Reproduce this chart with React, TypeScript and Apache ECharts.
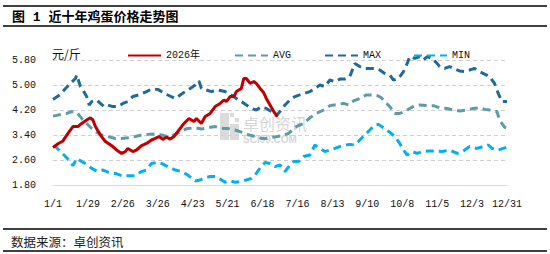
import React, { useEffect, useRef } from "react";
import * as echarts from "echarts";

// X-axis tick labels (every 28 days from 1/1)
const tickLabels = ["1/1", "1/29", "2/26", "3/26", "4/23", "5/21", "6/18", "7/16", "8/13", "9/10", "10/8", "11/5", "12/3", "12/31"];

const seriesNames = ["2026年", "AVG", "MAX", "MIN"];

// 2026 (day-of-year index, price)
const days2026 = [0, 4, 8, 12, 16, 20, 23, 27, 30, 32, 34, 38, 42, 47, 51, 55, 58, 60, 64, 67, 71, 75, 79, 82, 85, 88, 91, 94, 97, 101, 105, 109, 113, 115, 119, 122, 126, 130, 134, 137, 139, 142, 145, 147, 151, 153, 155, 158, 161, 163, 166, 169, 171, 174, 177, 180];
const price2026 = [3.0, 3.12, 3.21, 3.45, 3.67, 3.67, 3.77, 3.88, 3.95, 3.88, 3.67, 3.4, 3.19, 3.06, 2.92, 2.81, 2.87, 2.97, 2.87, 2.92, 3.06, 3.13, 3.24, 3.29, 3.35, 3.26, 3.33, 3.27, 3.35, 3.56, 3.77, 3.93, 3.83, 3.93, 3.77, 3.99, 4.09, 4.31, 4.41, 4.52, 4.47, 4.63, 4.63, 4.79, 4.89, 5.21, 5.21, 5.05, 5.11, 5.05, 4.89, 4.75, 4.57, 4.36, 4.15, 3.99];

// AVG
const daysAvg = [0, 2, 7, 11, 15, 19, 23, 27, 31, 35, 39, 44, 50, 55, 60, 66, 71, 76, 82, 87, 92, 98, 103, 108, 114, 119, 124, 130, 135, 140, 146, 151, 156, 162, 167, 171, 175, 180, 185, 189, 195, 201, 206, 211, 217, 222, 228, 233, 237, 241, 246, 251, 256, 260, 263, 266, 270, 274, 278, 282, 286, 290, 294, 300, 305, 310, 316, 321, 326, 332, 337, 342, 346, 350, 356, 358, 362, 364];
const priceAvg = [4.01, 4.02, 4.06, 4.09, 4.15, 4.13, 3.93, 3.77, 3.61, 3.49, 3.4, 3.35, 3.29, 3.29, 3.31, 3.35, 3.4, 3.42, 3.43, 3.4, 3.35, 3.42, 3.53, 3.61, 3.63, 3.59, 3.63, 3.67, 3.61, 3.61, 3.56, 3.49, 3.42, 3.35, 3.29, 3.29, 3.32, 3.35, 3.4, 3.45, 3.67, 3.77, 3.95, 4.09, 4.2, 4.34, 4.38, 4.41, 4.36, 4.49, 4.57, 4.68, 4.68, 4.66, 4.6, 4.47, 4.31, 4.09, 4.09, 4.15, 4.25, 4.34, 4.36, 4.34, 4.34, 4.27, 4.25, 4.2, 4.17, 4.2, 4.25, 4.27, 4.22, 4.2, 4.15, 3.88, 3.65, 3.62];

// MAX
const daysMax = [0, 2, 6, 10, 14, 18, 19, 22, 24, 27, 29, 31, 35, 38, 41, 44, 48, 52, 56, 60, 64, 70, 75, 79, 84, 87, 92, 98, 102, 106, 110, 114, 117, 119, 123, 127, 132, 138, 143, 147, 151, 155, 159, 163, 167, 171, 175, 179, 182, 186, 190, 194, 199, 206, 210, 214, 218, 222, 226, 230, 234, 238, 242, 246, 250, 254, 258, 262, 266, 270, 273, 277, 281, 284, 286, 290, 294, 297, 300, 304, 308, 310, 314, 318, 322, 326, 330, 334, 338, 342, 346, 350, 354, 357, 360, 364];
const priceMax = [4.54, 4.59, 4.7, 4.89, 5.05, 5.21, 5.32, 4.95, 4.84, 4.63, 4.36, 4.47, 4.52, 4.41, 4.31, 4.36, 4.31, 4.31, 4.41, 4.47, 4.63, 4.7, 4.79, 4.87, 4.86, 4.79, 4.68, 4.57, 4.68, 4.79, 4.89, 5.0, 5.13, 4.89, 4.84, 4.79, 4.84, 4.79, 4.68, 4.57, 4.47, 4.36, 4.25, 4.2, 4.3, 4.25, 4.15, 4.02, 4.15, 4.36, 4.52, 4.63, 4.7, 4.79, 4.89, 5.0, 4.95, 5.16, 5.11, 5.19, 5.19, 5.27, 5.69, 5.59, 5.53, 5.53, 5.53, 5.48, 5.37, 5.32, 5.16, 5.21, 5.43, 5.69, 5.91, 5.85, 5.91, 5.8, 5.91, 5.85, 5.69, 5.59, 5.53, 5.59, 5.51, 5.45, 5.43, 5.48, 5.53, 5.43, 5.35, 5.27, 5.05, 4.73, 4.47, 4.47];

// MIN
const daysMin = [0, 2, 6, 10, 14, 16, 19, 23, 27, 31, 35, 40, 44, 50, 55, 60, 66, 71, 75, 79, 84, 87, 92, 98, 103, 108, 114, 118, 122, 126, 130, 134, 138, 142, 146, 151, 155, 159, 163, 167, 170, 174, 178, 182, 186, 190, 193, 197, 201, 206, 210, 214, 218, 222, 226, 230, 234, 238, 242, 246, 250, 254, 258, 261, 265, 270, 274, 278, 281, 284, 288, 292, 296, 301, 306, 312, 318, 324, 329, 334, 340, 345, 349, 352, 357, 364];
const priceMin = [3.03, 3.03, 2.87, 2.71, 2.55, 2.42, 2.65, 2.55, 2.46, 2.33, 2.25, 2.28, 2.21, 2.17, 2.1, 2.1, 2.1, 2.23, 2.28, 2.49, 2.53, 2.49, 2.39, 2.28, 2.23, 2.12, 1.93, 1.96, 2.03, 2.07, 2.07, 1.99, 1.89, 1.93, 1.89, 1.91, 1.96, 2.01, 2.17, 2.39, 2.52, 2.49, 2.39, 2.44, 2.23, 2.44, 2.55, 2.55, 2.71, 2.76, 3.08, 2.97, 2.87, 2.92, 2.97, 3.03, 3.08, 3.1, 3.08, 3.24, 3.4, 3.56, 3.72, 3.74, 3.63, 3.49, 3.35, 3.13, 2.92, 2.76, 2.87, 2.81, 2.87, 2.89, 2.89, 2.87, 2.92, 2.81, 2.89, 3.03, 2.97, 3.03, 3.08, 2.97, 2.92, 3.01];

const colors = { y2026: "#c00000", avg: "#5c9ca6", max: "#1f6b98", min: "#00b0f0" };

const pair = (d: number[], v: number[]) => d.map((x, i) => [x, v[i]]);

const MONO = "Liberation Mono, Noto Sans CJK SC, monospace";
const CJK = "Noto Sans CJK SC, sans-serif";

export default function App() {
  const ref = useRef<HTMLDivElement>(null);
  useEffect(() => {
    const chart = echarts.init(ref.current!, null, { renderer: "svg" });
    const dashed = (color: string) => ({ color, width: 3, type: [8, 5] as any, cap: "butt" as any });
    const option: any = {
      animation: false,
      backgroundColor: "#ffffff",
      grid: { left: 53, right: 43, top: 60, bottom: 69, containLabel: false },
      legend: [
        { data: [seriesNames[0]], left: 122, top: 45 },
        { data: [seriesNames[1]], left: 229, top: 45 },
        { data: [seriesNames[2]], left: 319, top: 45 },
        { data: [seriesNames[3]], left: 408, top: 45 },
      ].map((l) => ({
        ...l,
        itemWidth: 33,
        itemHeight: 14,
        itemGap: 5,
        itemStyle: { opacity: 0, borderWidth: 0 },
        textStyle: { fontFamily: MONO, fontSize: 10, color: "#111" },
      })),
      xAxis: {
        type: "value",
        min: 0,
        max: 364,
        interval: 28,
        axisLine: { show: true, lineStyle: { color: "#d9d9d9", width: 1 } },
        axisTick: { show: false },
        splitLine: { show: false },
        axisLabel: {
          margin: 14,
          fontSize: 10,
          fontFamily: MONO,
          color: "#111",
          formatter: (v: number) => tickLabels[Math.round(v / 28)] ?? "",
        },
      },
      yAxis: {
        type: "value",
        min: 1.8,
        max: 5.8,
        interval: 0.8,
        axisLine: { show: false },
        axisTick: { show: false },
        splitLine: { show: true, lineStyle: { color: "#d0d0d0", type: [4, 3], width: 1 } },
        axisLabel: {
          margin: 17,
          fontSize: 10,
          fontFamily: MONO,
          color: "#111",
          formatter: (v: number) => v.toFixed(2),
        },
      },
      graphic: [
        { type: "line", shape: { x1: 3, y1: 6, x2: 547, y2: 6 }, style: { stroke: "#000", lineWidth: 1.5 } },
        { type: "line", shape: { x1: 3, y1: 26, x2: 547, y2: 26 }, style: { stroke: "#000", lineWidth: 1.5 } },
        { type: "line", shape: { x1: 3, y1: 229, x2: 547, y2: 229 }, style: { stroke: "#000", lineWidth: 1.5 } },
        { type: "line", shape: { x1: 3, y1: 251, x2: 547, y2: 251 }, style: { stroke: "#000", lineWidth: 1.5 } },
        {
          type: "text",
          x: 12,
          y: 17,
          style: { text: "图 1 近十年鸡蛋价格走势图", font: `bold 13px ${MONO}`, fill: "#000", verticalAlign: "middle" },
        },
        {
          type: "text",
          x: 11,
          y: 241,
          style: { text: "数据来源：卓创资讯", font: `12.5px ${CJK}`, fill: "#222", verticalAlign: "middle" },
        },
        {
          type: "text",
          x: 52,
          y: 53,
          style: { text: "元/斤", font: `12px ${CJK}`, fill: "#111", verticalAlign: "middle" },
        },
        {
          type: "group",
          z: -1,
          children: [
            { type: "rect", shape: { x: 220, y: 113, width: 9, height: 27 }, style: { fill: "rgba(190,190,190,0.55)" } },
            { type: "rect", shape: { x: 230, y: 124, width: 9, height: 16 }, style: { fill: "rgba(190,190,190,0.55)" } },
            { type: "rect", shape: { x: 230, y: 113, width: 4, height: 4 }, style: { fill: "rgba(190,190,190,0.55)" } },
            { type: "rect", shape: { x: 235, y: 118, width: 4, height: 4 }, style: { fill: "rgba(190,190,190,0.55)" } },
            {
              type: "text",
              x: 243,
              y: 123,
              style: { text: "卓创资讯", font: `16px ${CJK}`, fill: "rgba(185,185,185,0.6)", verticalAlign: "middle" },
            },
            {
              type: "text",
              x: 243,
              y: 139,
              style: { text: "SCI99.COM", font: `bold 10px Liberation Sans, sans-serif`, fill: "rgba(185,185,185,0.6)", verticalAlign: "middle" },
            },
          ],
        },
      ],
      series: [
        {
          name: seriesNames[1],
          type: "line",
          symbol: "none",
          clip: false,
          z: 2,
          lineStyle: dashed(colors.avg),
          itemStyle: { color: colors.avg },
          data: pair(daysAvg, priceAvg),
        },
        {
          name: seriesNames[2],
          type: "line",
          symbol: "none",
          clip: false,
          z: 2,
          lineStyle: dashed(colors.max),
          itemStyle: { color: colors.max },
          data: pair(daysMax, priceMax),
        },
        {
          name: seriesNames[3],
          type: "line",
          symbol: "none",
          clip: false,
          z: 2,
          lineStyle: dashed(colors.min),
          itemStyle: { color: colors.min },
          data: pair(daysMin, priceMin),
        },
        {
          name: seriesNames[0],
          type: "line",
          symbol: "none",
          clip: false,
          z: 3,
          lineStyle: { color: colors.y2026, width: 3 },
          itemStyle: { color: colors.y2026 },
          data: pair(days2026, price2026),
        },
      ],
    };
    chart.setOption(option);
    return () => chart.dispose();
  }, []);
  return (
    <div
      ref={ref}
      style={{ position: "fixed", left: 0, top: 0, width: 550, height: 254, background: "#fff" }}
    />
  );
}
